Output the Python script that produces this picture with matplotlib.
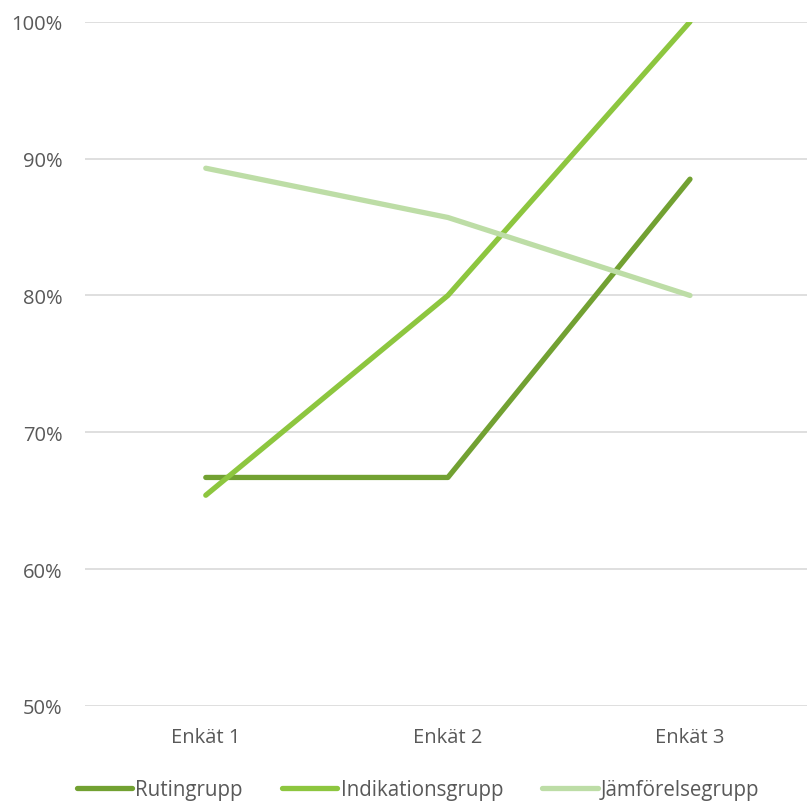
import matplotlib.pyplot as plt
from matplotlib.ticker import PercentFormatter

plt.rcParams['font.family'] = ['Open Sans', 'DejaVu Sans']

surveys = ["Enkät 1", "Enkät 2", "Enkät 3"]
series_names = ["Rutingrupp", "Indikationsgrupp", "Jämförelsegrupp"]
rutin = [66.7, 66.7, 88.5]
indikation = [65.4, 80.0, 100.0]
jamforelse = [89.3, 85.7, 80.0]
y_ticks = [50, 60, 70, 80, 90, 100]

colors = ["#72A132", "#8DC63F", "#BDDDA6"]
text_color = "#595959"

fig = plt.figure(figsize=(8.07, 8.03), dpi=100)
ax = fig.add_axes([0.105, 0.1196, 0.9, 0.852])

x = range(len(surveys))
for values, name, color in zip([rutin, indikation, jamforelse], series_names, colors):
    ax.plot(x, values, color=color, linewidth=3.8, solid_capstyle="round",
            solid_joinstyle="round", label=name)

ax.set_xlim(-0.5, 2.5)
ax.set_ylim(50, 100)
ax.set_yticks(y_ticks)
ax.yaxis.set_major_formatter(PercentFormatter(decimals=0))
ax.set_xticks(list(x))
ax.set_xticklabels(surveys)
ax.grid(axis="y", color="#D9D9D9", linewidth=1.2)
ax.set_axisbelow(True)
for spine in ax.spines.values():
    spine.set_visible(False)
ax.tick_params(length=0, labelsize=14.5, colors=text_color)
ax.tick_params(axis="y", pad=16)
ax.tick_params(axis="x", pad=15)

# legend row across the bottom, slightly right of centre
fig.legend(loc="center", bbox_to_anchor=(418 / 807, 12 / 803), ncol=3, frameon=False,
           fontsize=14.8, labelcolor=text_color, handlelength=2.7, handletextpad=0.15,
           columnspacing=1.9, borderaxespad=0)

fig.savefig("out.png", dpi=100)
